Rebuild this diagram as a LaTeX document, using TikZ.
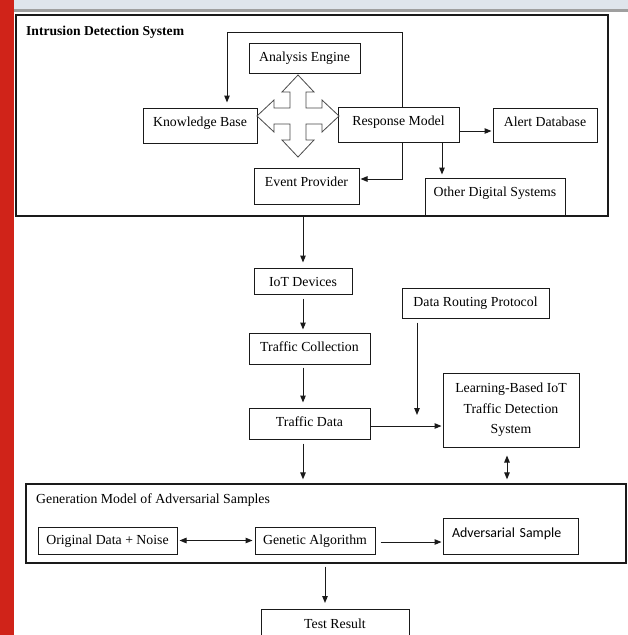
\documentclass[tikz,border=0pt]{standalone}
\usepackage{fontspec}
\setmainfont{Liberation Serif}
\newfontfamily\advfont{Carlito}
\usetikzlibrary{arrows.meta}

\definecolor{sidebar}{HTML}{D02319}
\definecolor{topstrip}{HTML}{DFE5EC}
\definecolor{ink}{HTML}{1A1A1A}

\begin{document}
\begin{tikzpicture}[
   x=1pt,y=-1pt,
   font=\fontsize{13.8pt}{20.5pt}\selectfont,
   box/.style={draw=ink,line width=1pt,inner sep=0pt},
   textbox/.style={box,text height=18.5pt,text depth=#1},
   frame/.style={draw=ink,line width=1.3pt,inner sep=0pt},
   link/.style={-{Triangle[length=7pt,width=5.5pt]},draw=ink,line width=1pt,shorten >=1pt},
   twoway/.style={link,{Triangle[length=7pt,width=5.5pt]}-{Triangle[length=7pt,width=5.5pt]}}]
\clip (0,0) rectangle (628,635);
\fill[white] (0,0) rectangle (628,635);
\fill[sidebar] (0,0) rectangle (14,635);
\fill[topstrip] (14,0) rectangle (628,9);
\fill[gray!75] (14,9) rectangle (628,12);

% intrusion detection part
\node[frame,minimum width=592pt,minimum height=201pt] (ids) at (312,115.5) {};
\node[anchor=base west,inner sep=0pt,font=\fontsize{13.6pt}{16pt}\selectfont\bfseries] (idstitle) at (26,35) {Intrusion Detection System};
\node[textbox=11.5pt,minimum width=111pt] (engine) at (304.5,58) {Analysis Engine};
\node[textbox=16.5pt,minimum width=114pt] (knowledge) at (200,125.5) {Knowledge Base};
\node[textbox=16.5pt,minimum width=121pt] (response) at (398.5,124.5) {Response Model};
\node[textbox=15.5pt,minimum width=104pt] (alert) at (545,125) {Alert Database};
\node[textbox=17.5pt,minimum width=105pt] (event) at (306.5,186) {Event Provider};
\node[textbox=19.5pt,minimum width=140pt] (other) at (495,197) {Other Digital Systems};

% four way arrow between the components
\draw[ink!80,line width=0.8pt,shift={(298,116)}]
   (0,-41) -- (16,-24) -- (8,-24) -- (8,-8) -- (24,-8) -- (24,-16) -- (41,0)
   -- (24,16) -- (24,8) -- (8,8) -- (8,24) -- (16,24) -- (0,41)
   -- (-16,24) -- (-8,24) -- (-8,8) -- (-24,8) -- (-24,16) -- (-41,0)
   -- (-24,-16) -- (-24,-8) -- (-8,-8) -- (-8,-24) -- (-16,-24) -- cycle;

\draw[link,shorten >=5pt] ([xshift=3.5pt]response.north) -- ++(0,-74) -| ([xshift=27pt]knowledge.north);
\draw[link] ([xshift=3.5pt]response.south) |- ([yshift=7pt]event.east);
\draw[link] ([yshift=-6.5pt]response.east) -- ([yshift=-6.5pt]response.east -| alert.west);
\draw[link,shorten >=3pt] ([xshift=43.5pt]response.south) -- ([xshift=43.5pt]response.south |- other.north);

% traffic chain
\node[textbox=7.5pt,minimum width=98pt] (iot) at (303,281) {IoT Devices};
\node[textbox=12.5pt,minimum width=121pt] (collect) at (309.5,348.5) {Traffic Collection};
\node[textbox=12.5pt,minimum width=121pt] (data) at (309.5,423.5) {Traffic Data};
\node[textbox=11.5pt,minimum width=147pt] (routing) at (475.5,303) {Data Routing Protocol};
\node[box,minimum width=136pt,minimum height=74pt,align=center] (detect) at (511,410) {Learning-Based IoT\\Traffic Detection\\System};
\coordinate (drop) at (417,416);

\draw[link,shorten >=5pt] (ids.south -| iot) -- (iot.north);
\draw[link,shorten <=4pt,shorten >=3pt] (iot.south) -- (iot.south |- collect.north);
\draw[link,shorten <=3pt,shorten >=5pt] (iot.south |- collect.south) -- (iot.south |- data.north);
\draw[link] ([yshift=-2.5pt]data.east) -- ([yshift=-2.5pt]data.east -| detect.west);
\draw[link,shorten <=4pt] (drop |- routing.south) -- (drop);

% adversarial samples
\node[frame,minimum width=600pt,minimum height=79pt] (gen) at (326,523.5) {};
\node[anchor=base west,inner sep=0pt] (gentitle) at (36,503) {Generation Model of Adversarial Samples};
\node[box,minimum width=139pt,text height=17pt,text depth=10pt] (noise) at (107.5,540.5) {Original Data + Noise};
\node[box,minimum width=120pt,text height=17pt,text depth=10pt] (genetic) at (315,540.5) {Genetic Algorithm};
\node[box,minimum width=135pt,text height=19pt,text depth=17pt,text width=117pt,align=left,
      font=\advfont\fontsize{13.9pt}{16pt}\selectfont] (adv) at (510.5,536) {Adversarial Sample};
\node[box,minimum width=148pt,text height=19pt,text depth=17pt,anchor=north] (result) at (335,609) {Test Result};

\draw[link,shorten <=4pt,shorten >=4pt] (iot.south |- data.south) -- (iot.south |- gen.north);
\draw[twoway,shorten <=8pt,shorten >=4pt] ([xshift=-4pt]detect.south) -- ([xshift=-4pt]detect.south |- gen.north);
\draw[twoway,shorten <=2pt,shorten >=2pt] (noise.east) -- (genetic.west);
\draw[link,shorten <=5pt] ([yshift=-1.5pt]genetic.east) -- ([yshift=-1.5pt]genetic.east -| adv.west);
\draw[link,shorten <=3pt,shorten >=6pt] ([xshift=-10pt]result.north |- gen.south) -- ([xshift=-10pt]result.north);
\end{tikzpicture}
\end{document}
